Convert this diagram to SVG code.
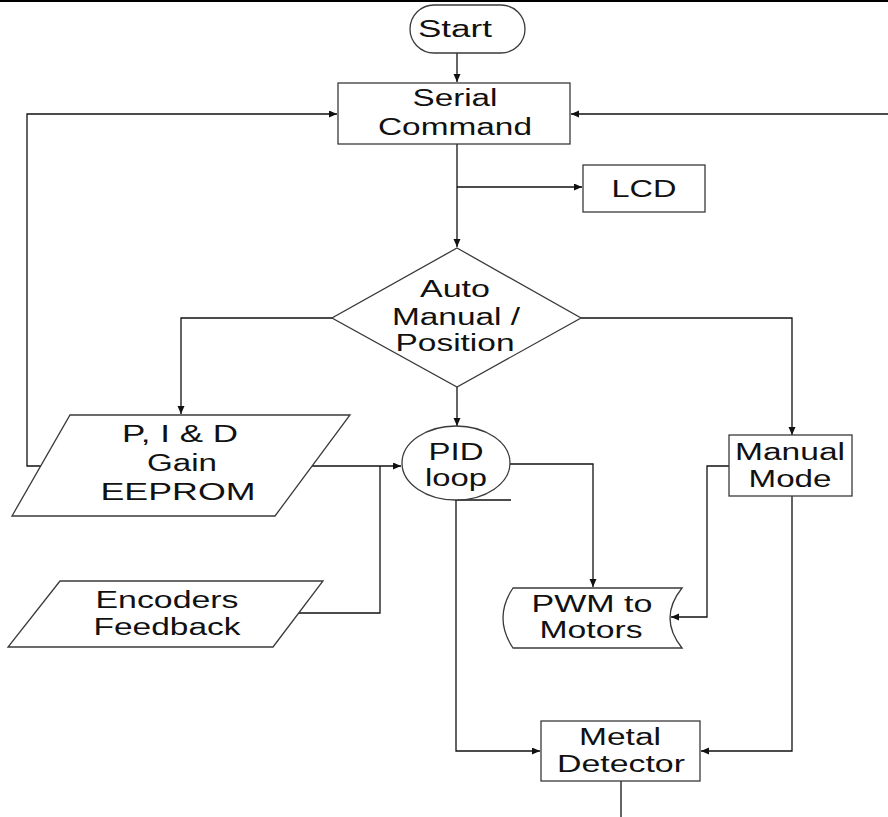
<svg xmlns="http://www.w3.org/2000/svg" width="888" height="817" viewBox="0 0 888 817">
  <style>
    .shape { fill: #ffffff; stroke: #3a3a3a; stroke-width: 1.3; }
    .wire { fill: none; stroke: #111111; stroke-width: 1.3; }
    .lbl { font-family: "Liberation Sans", Arial, sans-serif; font-size: 23px; fill: #111111; text-anchor: middle; }
  </style>
  <defs>
    <marker id="arrow" markerUnits="userSpaceOnUse" markerWidth="9" markerHeight="8" refX="8" refY="3.5" orient="auto">
      <path d="M0,0 L8,3.5 L0,7 Z" fill="#111111"/>
    </marker>
  </defs>

  <rect x="0" y="0" width="888" height="817" fill="#ffffff"/>
  <rect x="0" y="0" width="888" height="2" fill="#000000"/>

  <!-- connectors -->
  <g id="connectors">
    <path class="wire" d="M457 53 V82" marker-end="url(#arrow)"/>
    <path class="wire" d="M41 466 H27 V114 H337" marker-end="url(#arrow)"/>
    <path class="wire" d="M888 114 H571" marker-end="url(#arrow)"/>
    <path class="wire" d="M457 144 V247" marker-end="url(#arrow)"/>
    <path class="wire" d="M457 187 H582" marker-end="url(#arrow)"/>
    <path class="wire" d="M457 387 V426" marker-end="url(#arrow)"/>
    <path class="wire" d="M332 318 H181 V414" marker-end="url(#arrow)"/>
    <path class="wire" d="M581 318 H792 V435" marker-end="url(#arrow)"/>
    <path class="wire" d="M312 466 H401" marker-end="url(#arrow)"/>
    <path class="wire" d="M299 613 H380 V466"/>
    <path class="wire" d="M510 464 H593 V587" marker-end="url(#arrow)"/>
    <path class="wire" d="M729 466 H707 V617 H671" marker-end="url(#arrow)"/>
    <path class="wire" d="M455 500 H511"/>
    <path class="wire" d="M456 500 V751 H540" marker-end="url(#arrow)"/>
    <path class="wire" d="M792 496 V751 H701" marker-end="url(#arrow)"/>
    <path class="wire" d="M621 781 V817"/>
  </g>

  <g id="start">
    <rect class="shape" x="410" y="5" width="115" height="48" rx="24" ry="24"/>
    <text class="lbl" x="455" y="37" textLength="74" lengthAdjust="spacingAndGlyphs">Start</text>
  </g>

  <g id="serial-command">
    <rect class="shape" x="338" y="83" width="232" height="61"/>
    <text class="lbl" x="455" y="106" textLength="85" lengthAdjust="spacingAndGlyphs">Serial</text>
    <text class="lbl" x="455" y="135" textLength="154" lengthAdjust="spacingAndGlyphs">Command</text>
  </g>

  <g id="lcd">
    <rect class="shape" x="583" y="165" width="122" height="47"/>
    <text class="lbl" x="644" y="197" textLength="65" lengthAdjust="spacingAndGlyphs">LCD</text>
  </g>

  <g id="mode-select">
    <polygon class="shape" points="457,248 581,318 457,387 332,318"/>
    <text class="lbl" x="455" y="297" textLength="70" lengthAdjust="spacingAndGlyphs">Auto</text>
    <text class="lbl" x="456" y="325" textLength="128" lengthAdjust="spacingAndGlyphs">Manual /</text>
    <text class="lbl" x="455" y="351" textLength="119" lengthAdjust="spacingAndGlyphs">Position</text>
  </g>

  <g id="pid-gain">
    <polygon class="shape" points="70,415 350,415 275,516 12,516"/>
    <text class="lbl" x="180" y="442" textLength="116" lengthAdjust="spacingAndGlyphs">P, I &amp; D</text>
    <text class="lbl" x="182" y="471" textLength="70" lengthAdjust="spacingAndGlyphs">Gain</text>
    <text class="lbl" x="178" y="500" textLength="155" lengthAdjust="spacingAndGlyphs">EEPROM</text>
  </g>

  <g id="pid-loop">
    <ellipse class="shape" cx="456" cy="463" rx="54" ry="37"/>
    <text class="lbl" x="456" y="460" textLength="55" lengthAdjust="spacingAndGlyphs">PID</text>
    <text class="lbl" x="456" y="486" textLength="62" lengthAdjust="spacingAndGlyphs">loop</text>
  </g>

  <g id="manual-mode">
    <rect class="shape" x="729" y="435" width="123" height="61"/>
    <text class="lbl" x="790" y="460" textLength="110" lengthAdjust="spacingAndGlyphs">Manual</text>
    <text class="lbl" x="790" y="487" textLength="83" lengthAdjust="spacingAndGlyphs">Mode</text>
  </g>

  <g id="encoders">
    <polygon class="shape" points="60,581 323,581 273,647 8,647"/>
    <text class="lbl" x="167" y="608" textLength="143" lengthAdjust="spacingAndGlyphs">Encoders</text>
    <text class="lbl" x="167" y="635" textLength="147" lengthAdjust="spacingAndGlyphs">Feedback</text>
  </g>

  <g id="pwm-motors">
    <path class="shape" d="M513 588 H682 Q658 618 682 648 H513 Q493 618 513 588 Z"/>
    <text class="lbl" x="592" y="612" textLength="121" lengthAdjust="spacingAndGlyphs">PWM to</text>
    <text class="lbl" x="591" y="638" textLength="103" lengthAdjust="spacingAndGlyphs">Motors</text>
  </g>

  <g id="metal-detector">
    <rect class="shape" x="541" y="721" width="159" height="60"/>
    <text class="lbl" x="620" y="745" textLength="82" lengthAdjust="spacingAndGlyphs">Metal</text>
    <text class="lbl" x="621" y="772" textLength="128" lengthAdjust="spacingAndGlyphs">Detector</text>
  </g>
</svg>
